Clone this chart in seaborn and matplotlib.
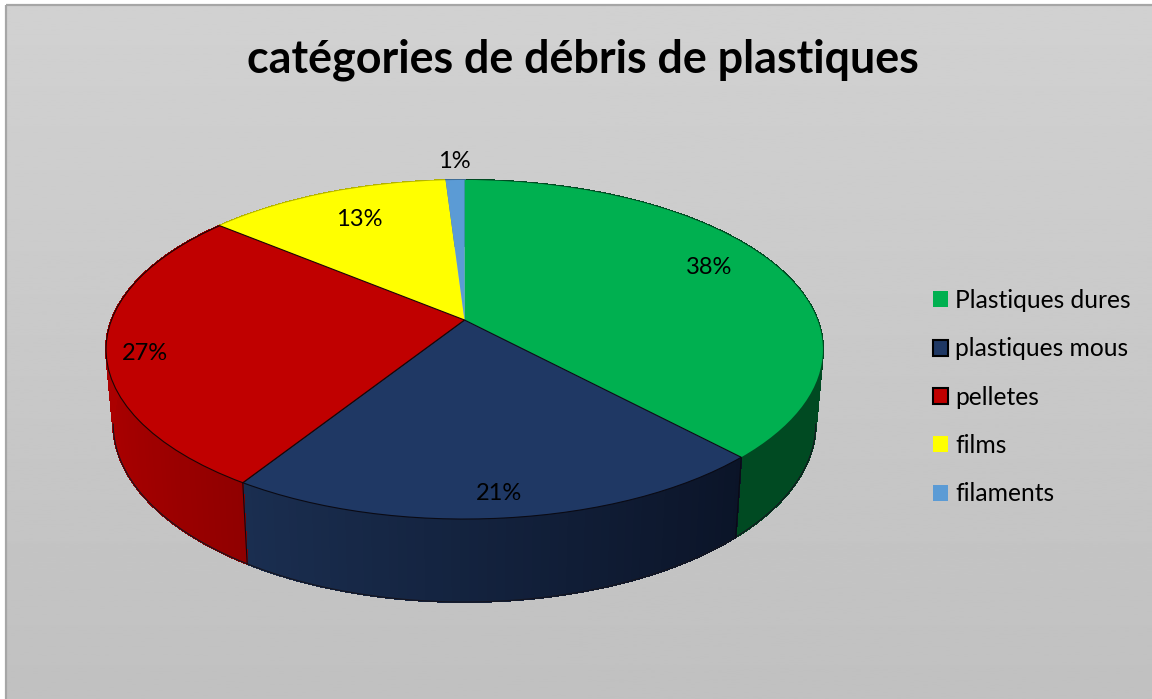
#Import Libraries
import numpy as np
import matplotlib
matplotlib.use('Agg')
import matplotlib.pyplot as plt
import matplotlib.transforms as mtransforms
from matplotlib.patches import Rectangle
import seaborn as sns

#Chart data
categories = ['Plastiques dures', 'plastiques mous', 'pelletes', 'films', 'filaments']
shares = [38, 21, 27, 13, 1]
shareLabels = ['38%', '21%', '27%', '13%', '1%']
titleText = 'catégories de débris de plastiques'

#Colours
topColors = ['#00b050', '#1f3864', '#c00000', '#ffff00', '#5b9bd5']
wallLeft = ['#004a22', '#1a2e50', '#ab0000', '#b3b300', '#3f6d96']
wallRight = ['#004a22', '#0b1428', '#8f0000', '#b3b300', '#3f6d96']
edgeColors = ['none', '#0a0a14', '#1a0505', 'none', 'none']

sns.set_theme(style = 'white')
plt.rcParams['font.family'] = ['Lato', 'DejaVu Sans']

#Where the disc lands in picture pixels
apexX, apexY = 464.5, 320.0
scaleX, scaleY, tilt = 353.0, 164.4, 0.174
wallDrop, wallShrinkX, wallShrinkY = 73.0, 0.98, 1.05


class DiscToPixels(mtransforms.Transform):
    #Perspective view of the unit disc, so the apex sits above the ellipse middle
    input_dims = 2
    output_dims = 2
    is_separable = False
    has_inverse = False

    def __init__(self, shrinkX = 1.0, shrinkY = 1.0, drop = 0.0):
        super().__init__()
        self.shrinkX = shrinkX
        self.shrinkY = shrinkY
        self.drop = drop

    def transform_non_affine(self, values):
        values = np.asarray(values, dtype = float)
        w = 1 + tilt * values[:, 1]
        x = apexX + self.shrinkX * scaleX * values[:, 0] / w
        y = apexY + self.drop - self.shrinkY * scaleY * values[:, 1] / w
        return np.column_stack([x, y])


fig = plt.figure(figsize = (11.52, 6.99), dpi = 100, facecolor = 'white')
ax = fig.add_axes([0, 0, 1, 1])

#Top of the pie
wedges, _ = ax.pie(shares, colors = sns.color_palette(topColors), startangle = 90,
                   counterclock = False, radius = 1, center = (0, 0))

#Grey gradient background
shade = np.linspace(0.82, 0.755, 256).reshape(-1, 1)
ax.imshow(shade, cmap = 'gray', vmin = 0, vmax = 1, extent = (7, 1152, 699, 6),
          aspect = 'auto', zorder = 0)
ax.add_patch(Rectangle((6, 5), 1160, 720, facecolor = 'none', edgecolor = '#a6a6a6',
                       linewidth = 1.6, zorder = 1))

ax.set_aspect('auto')
ax.set_xlim(0, 1152)
ax.set_ylim(699, 0)
ax.axis('off')

topDisc = DiscToPixels()
wallDisc = DiscToPixels(wallShrinkX, wallShrinkY, wallDrop)
topTransform = topDisc + ax.transData
wallTransform = wallDisc + ax.transData

#Side wall, drawn as thin strips per slice
bounds = np.cumsum([0] + shares) / sum(shares) * 2 * np.pi
for i in range(len(shares)):
    angles = np.linspace(bounds[i], bounds[i + 1], max(3, shares[i] * 3))
    leftColor = np.array(matplotlib.colors.to_rgb(wallLeft[i]))
    rightColor = np.array(matplotlib.colors.to_rgb(wallRight[i]))
    xs = np.sin(angles)
    span = max(xs.max() - xs.min(), 1e-6)
    for a, b in zip(angles[:-1], angles[1:]):
        rim = np.array([[np.sin(a), np.cos(a)], [np.sin(b), np.cos(b)]])
        frac = (0.5 * (rim[0, 0] + rim[1, 0]) - xs.min()) / span
        stripColor = leftColor + (rightColor - leftColor) * frac
        corners = np.vstack([topDisc.transform(rim), wallDisc.transform(rim)[::-1]])
        ax.fill(corners[:, 0], corners[:, 1], color = stripColor, linewidth = 0.8,
                antialiased = False, zorder = 2)

#Dark seams and lower outline on the front of the wall
frontAngles = np.radians(np.linspace(100, 260, 200))
lowerRim = np.column_stack([np.sin(frontAngles), np.cos(frontAngles)])
ax.plot(lowerRim[:, 0], lowerRim[:, 1], transform = wallTransform, color = '#15151f',
        linewidth = 0.8, zorder = 3)
for angle in bounds[1:3]:
    seam = np.array([[np.sin(angle), np.cos(angle)]])
    seamPts = np.vstack([topDisc.transform(seam), wallDisc.transform(seam)])
    ax.plot(seamPts[:, 0], seamPts[:, 1], color = '#0a0a14', linewidth = 0.8, zorder = 3)

for i, wedge in enumerate(wedges):
    wedge.set_transform(topTransform)
    wedge.set_clip_on(False)
    wedge.set_zorder(4 if edgeColors[i] == 'none' else 5)
    wedge.set_edgecolor(edgeColors[i])
    wedge.set_linewidth(0.8 if edgeColors[i] != 'none' else 0)

#Percent labels
labelX = [709, 499, 145, 359, 454]
labelY = [268, 494, 353, 220, 162]
for x, y, text in zip(labelX, labelY, shareLabels):
    ax.text(x, y, text, ha = 'center', va = 'center', fontsize = 17, color = 'black', zorder = 6)

ax.text(582.5, 60, titleText, ha = 'center', va = 'center', fontsize = 32.3,
        fontweight = 'bold', color = 'black', zorder = 6)

#Legend
legend = ax.legend(wedges, categories, loc = 'upper left', bbox_to_anchor = (933, 289),
                   bbox_transform = ax.transData, frameon = False, fontsize = 17.7,
                   handlelength = 0.61, handleheight = 0.61, handletextpad = 0.28,
                   labelspacing = 1.03, labelcolor = 'black', borderpad = 0, borderaxespad = 0)
for i, handle in enumerate(legend.legend_handles):
    if edgeColors[i] != 'none':
        handle.set_edgecolor('black')
        handle.set_linewidth(1.5)

fig.savefig('out.png', dpi = 100, facecolor = 'white')
